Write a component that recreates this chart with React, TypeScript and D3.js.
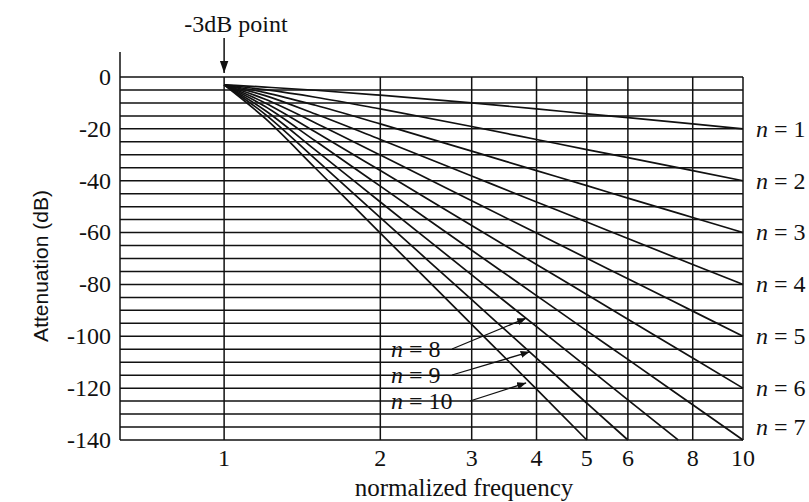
import React from "react";
import * as d3 from "d3";

// attenuation (dB) at these normalized frequencies
const freqs = [1, 1.2, 1.5, 2, 3, 4, 5, 6, 8, 10];
const att1 = [-3, -3.9, -5.1, -7, -10, -12.3, -14.2, -15.7, -18.1, -20];
const att2 = [-3, -4.9, -7.8, -12.3, -19.1, -24.1, -28, -31.1, -36.1, -40];
const att3 = [-3, -6, -10.9, -18.1, -28.6, -36.1, -41.9, -46.7, -54.2, -60];
const att4 = [-3, -7.2, -14.3, -24.1, -38.2, -48.2, -55.9, -62.3, -72.3, -80];
const att5 = [-3, -8.6, -17.7, -30.1, -47.7, -60.2, -69.9, -77.8, -90.3, -100];
const att6 = [-3, -10, -21.2, -36.1, -57.3, -72.3, -83.9, -93.4, -108.4, -120];
const att7 = [-3, -11.4, -24.7, -42.1, -66.8, -84.3, -97.9, -108.9, -126.4, -140];
const att8 = [-3, -12.9, -28.2, -48.2, -76.3, -96.3, -111.8, -124.5];
const att9 = [-3, -14.4, -31.7, -54.2, -85.9, -108.4, -125.8, -140];
const att10 = [-3, -16, -35.2, -60.2, -95.4, -120.4, -140];
// where the steep curves run off the bottom of the grid
const cutoffs: Record<number, number> = { 8: 7.5 };

const orders = [1, 2, 3, 4, 5, 6, 7, 8, 9, 10];
const values = [att1, att2, att3, att4, att5, att6, att7, att8, att9, att10];

const xTicks = [1, 2, 3, 4, 5, 6, 8, 10];
const yTicks = [0, -20, -40, -60, -80, -100, -120, -140];
const yGrid = d3.range(0, -141, -5);

const rightLabels = [1, 2, 3, 4, 5, 6, 7];
// arrow notes for n = 8..10: [order, freq, dB at the arrow tip]
const notes: [number, number, number][] = [
  [8, 3.82, -93],
  [9, 3.88, -106],
  [10, 3.82, -118],
];

const W = 809, H = 502;
const css = `
  .chart text { font-family: 'Liberation Serif', serif !important; fill: #111; }
  .chart text.ylab { font-family: 'Liberation Sans', sans-serif !important; }
`;

export default function App() {
  const x = d3.scaleLog().domain([0.63, 10]).range([120, 743]);
  const y = d3.scaleLinear().domain([0, -140]).range([77, 440]);

  const line = d3
    .line<[number, number]>()
    .x((d) => x(d[0]))
    .y((d) => y(d[1]))
    .curve(d3.curveMonotoneX);

  const series = orders.map((n, i) => {
    const pts: [number, number][] = values[i].map((v, j) => [freqs[j], v]);
    if (cutoffs[n]) pts.push([cutoffs[n], -140]);
    return pts;
  });

  const [x0, x1] = x.range();

  return (
    <svg
      className="chart"
      width={W}
      height={H}
      style={{ position: "absolute", left: 0, top: 0, background: "#fff", fontFamily: "Liberation Serif" }}
    >
      <style>{css}</style>
      <defs>
        <marker
          id="ah"
          viewBox="0 0 10 10"
          refX="10"
          refY="5"
          markerWidth="9"
          markerHeight="9"
          markerUnits="userSpaceOnUse"
          orient="auto"
        >
          <path d="M0,1 L10,5 L0,9 Z" fill="#111" />
        </marker>
        <marker
          id="ah2"
          viewBox="0 0 10 10"
          refX="10"
          refY="5"
          markerWidth="12"
          markerHeight="12"
          markerUnits="userSpaceOnUse"
          orient="auto"
        >
          <path d="M0,1.5 L10,5 L0,8.5 Z" fill="#111" />
        </marker>
      </defs>

      {/* grid */}
      <g stroke="#111" strokeWidth={1.5}>
        {yGrid.map((v) => (
          <line key={v} x1={x0} x2={x1} y1={y(v)} y2={y(v)} />
        ))}
        {xTicks.map((f) => (
          <line key={f} x1={x(f)} x2={x(f)} y1={y(0)} y2={y(-140)} />
        ))}
        <line x1={x0} x2={x0} y1={52} y2={y(-140)} />
      </g>

      {/* curves */}
      <g fill="none" stroke="#111" strokeWidth={1.7}>
        {series.map((pts, i) => (
          <path key={i} d={line(pts) ?? ""} />
        ))}
      </g>

      {/* y ticks */}
      {yTicks.map((v) => (
        <text key={v} x={111} y={y(v)} dy="0.33em" fontSize={24} textAnchor="end">
          {v}
        </text>
      ))}

      {/* x ticks */}
      {xTicks.map((f) => (
        <text key={f} x={x(f)} y={466} fontSize={24} textAnchor="middle">
          {f}
        </text>
      ))}

      {/* right-hand labels */}
      {rightLabels.map((n) => {
        const last = values[n - 1][values[n - 1].length - 1];
        const yy = y(last) + (n === 7 ? -13 : 0);
        return (
          <text key={n} x={756} y={yy} dy="0.33em" fontSize={24}>
            <tspan fontStyle="italic">n</tspan> = {n}
          </text>
        );
      })}

      {/* n = 8..10 notes */}
      {notes.map(([n, f, v], i) => {
        const ty = 349 + i * 26;
        const sx = n === 10 ? 470 : 452;
        return (
          <g key={n}>
            <text x={391} y={ty} dy="0.33em" fontSize={24}>
              <tspan fontStyle="italic">n</tspan> = {n}
            </text>
            <line
              x1={sx}
              y1={ty}
              x2={x(f)}
              y2={y(v)}
              stroke="#111"
              strokeWidth={1.3}
              markerEnd="url(#ah)"
            />
          </g>
        );
      })}

      {/* -3dB marker */}
      <text x={236} y={32} fontSize={24} textAnchor="middle">
        -3dB point
      </text>
      <line
        x1={x(1)}
        x2={x(1)}
        y1={38}
        y2={73}
        stroke="#111"
        strokeWidth={1.5}
        markerEnd="url(#ah2)"
      />

      {/* axis titles */}
      <text x={464} y={496} fontSize={25} textAnchor="middle">
        normalized frequency
      </text>
      <text
        className="ylab"
        transform={`translate(48,266) rotate(-90)`}
        fontSize={21}
        textAnchor="middle"
      >
        Attenuation (dB)
      </text>
    </svg>
  );
}
